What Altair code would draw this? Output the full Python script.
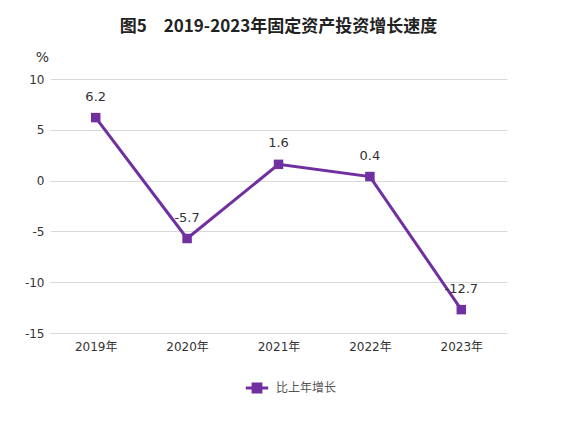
import altair as alt
import pandas as pd

years = ["2019年", "2020年", "2021年", "2022年", "2023年"]
growth = [6.2, -5.7, 1.6, 0.4, -12.7]
series_name = "比上年增长"
y_ticks = [-15, -10, -5, 0, 5, 10]

df = pd.DataFrame({"year": years, "value": growth, "series": [series_name] * len(years)})
df["label"] = [f"{v:.1f}" for v in growth]

purple = "#7030A0"
font = "DejaVu Sans, Noto Sans CJK SC"
cjk = "Noto Sans CJK SC"

x = alt.X("year:N", sort=years, scale=alt.Scale(type="point", padding=0.5),
          axis=alt.Axis(title=None, labelAngle=0, domain=False, ticks=False, grid=False,
                        labelFontSize=12, labelColor="#333333", labelPadding=8, labelFont=font))
y = alt.Y("value:Q", scale=alt.Scale(domain=[-15, 10], nice=False),
          axis=alt.Axis(values=y_ticks, title="%", titleAngle=0, titleX=-8, titleY=-22,
                        titleAlign="center", titleBaseline="middle", titleFontWeight="normal",
                        titleFontSize=14, titleColor="#333333", titleFont=font,
                        labelExpr="'' + datum.value",
                        domain=False, ticks=False, labelFontSize=12, labelColor="#333333",
                        labelPadding=6, gridColor="#d9d9d9", labelFont=font))

color = alt.Color("series:N", scale=alt.Scale(range=[purple]),
                  legend=alt.Legend(title=None, orient="none", legendX=194, legendY=296,
                                    symbolType="M-1,0L1,0M-0.35,-0.35L0.35,-0.35L0.35,0.35L-0.35,0.35Z",
                                    symbolSize=500, symbolStrokeWidth=3, symbolFillColor=purple,
                                    symbolStrokeColor=purple, labelFontSize=12, labelColor="#555555",
                                    labelFont=cjk, labelOffset=6))

base = alt.Chart(df)
line = base.mark_line(strokeWidth=3).encode(x=x, y=y, color=color)
pts = base.mark_square(size=90, opacity=1).encode(x=x, y=y, color=alt.Color("series:N", scale=alt.Scale(range=[purple]), legend=None))
txt = base.mark_text(dy=-21, fontSize=13, color="#333333", font=font).encode(x=x, y=y, text="label:N")

chart = alt.layer(line, pts, txt).properties(
    width=457, height=254,
    title=alt.TitleParams("图5　2019-2023年固定资产投资增长速度", fontSize=17, fontWeight="bold",
                          font=cjk, color="#222222", anchor="middle", offset=14),
    autosize=alt.AutoSizeParams(type="none"),
    padding={"left": 42, "top": 71, "right": 47, "bottom": 80},
).configure_view(stroke=None)

chart.save("out.html", embed_options={"renderer": "svg", "actions": False})
